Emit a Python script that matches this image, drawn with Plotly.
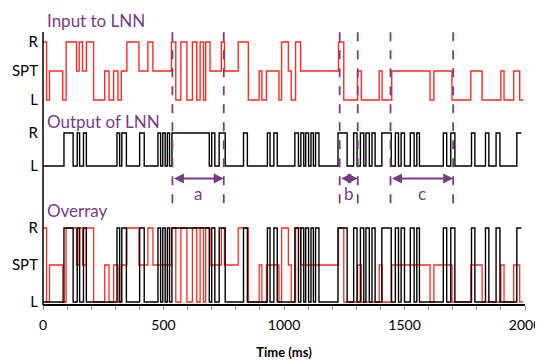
import plotly.graph_objects as go

# ---- data (ms, level) ----
# input levels: 0 = L, 1 = SPT, 2 = R
in_times = [0, 15, 27, 82, 96, 139, 150, 164, 180, 210, 256, 274, 293, 311, 325, 348, 398, 435, 456,
            533, 551, 572, 597, 620, 638, 652, 666, 675, 693, 740, 753, 810, 852, 897, 908,
            927, 979, 990, 1018, 1030, 1048, 1069, 1226, 1248, 1305, 1321, 1395, 1407, 1447, 1606,
            1622, 1697, 1775, 1822, 1900, 1913, 1953, 1978]
in_levels = [2, 0, 1, 0, 2, 1, 2, 1, 2, 0, 1, 0, 1, 0, 1, 2, 1, 2, 1,
             2, 0, 2, 0, 2, 0, 2, 0, 2, 1, 2, 1, 2, 0, 1, 0,
             1, 0, 2, 1, 0, 2, 1, 2, 0, 1, 0, 1, 0, 1, 0,
             1, 0, 1, 0, 1, 0, 1, 0]
in_end = 1992

# output levels: 0 = L, 1 = R
out_times = [0, 87, 125, 142, 152, 168, 180, 307, 318, 327, 346, 401, 420, 477, 488, 497, 507, 516, 525,
             535, 690, 700, 713, 731, 756, 832, 848, 931, 942, 958, 972, 1045, 1060, 1070, 1082, 1090,
             1102, 1112, 1122, 1131, 1145, 1224, 1262, 1289, 1303, 1317, 1331, 1340, 1354, 1365, 1378,
             1406, 1445, 1462, 1475, 1486, 1500, 1524, 1540, 1551, 1562, 1661, 1675, 1692, 1709, 1778,
             1792, 1836, 1850, 1880, 1896, 1966]
out_levels = [0, 1, 0, 1, 0, 1, 0, 1, 0, 1, 0, 1, 0, 1, 0, 1, 0, 1, 0,
              1, 0, 1, 0, 1, 0, 1, 0, 1, 0, 1, 0, 1, 0, 1, 0, 1,
              0, 1, 0, 1, 0, 1, 0, 1, 0, 1, 0, 1, 0, 1, 0,
              1, 0, 1, 0, 1, 0, 1, 0, 1, 0, 1, 0, 1, 0, 1,
              0, 1, 0, 1, 0, 1]
out_end = 1985

in_ticks = [0, 1, 2]
in_ticktext = ["L", "SPT", "R"]
out_ticks = [0, 1]
out_ticktext = ["L", "R"]
x_ticks = [0, 500, 1000, 1500, 2000]

# intervals marked a, b, c
mark_labels = ["a", "b", "c"]
mark_start = [537, 1231, 1442]
mark_end = [750, 1306, 1702]

PURPLE = "#7A3B86"
RED = "#FF2A1F"
FONT = "Lato"

in_x = in_times + [in_end]
in_y = in_levels + [in_levels[-1]]
out_x = out_times + [out_end]
out_y = out_levels + [out_levels[-1]]

fig = go.Figure()
fig.add_trace(go.Scatter(x=in_x, y=in_y, mode="lines", line=dict(color=RED, width=1.4, shape="hv"),
                         xaxis="x", yaxis="y", showlegend=False))
fig.add_trace(go.Scatter(x=out_x, y=out_y, mode="lines", line=dict(color="black", width=1.4, shape="hv"),
                         xaxis="x", yaxis="y2", showlegend=False))
fig.add_trace(go.Scatter(x=in_x, y=in_y, mode="lines", line=dict(color=RED, width=1.3, shape="hv"),
                         xaxis="x", yaxis="y3", showlegend=False))
fig.add_trace(go.Scatter(x=out_x, y=out_y, mode="lines", line=dict(color="black", width=1.4, shape="hv"),
                         xaxis="x", yaxis="y4", showlegend=False))

ylab = dict(family=FONT, size=15, color="black")
common_y = dict(showgrid=False, zeroline=False, showline=False, ticks="", tickfont=ylab,
                anchor="x", fixedrange=True, ticklabelstandoff=4, automargin=False)

# page body has an 8px margin, so the figure is sized to fit the 543x360 window
fig.update_layout(
    width=535, height=352,
    margin=dict(l=35, r=18, t=22, b=55),
    paper_bgcolor="white", plot_bgcolor="white",
    font=dict(family=FONT, color="black"),
    xaxis=dict(range=[0, 2000], tickvals=x_ticks, showgrid=False, zeroline=False, automargin=False,
               showline=True, linecolor="black", linewidth=1.5, ticks="outside", ticklen=4,
               tickcolor="#888", tickwidth=1, ticklabeloverflow="allow", ticklabelstandoff=4,
               minor=dict(dtick=100, ticks="outside", ticklen=4, tickcolor="#888", tickwidth=1),
               tickfont=dict(family=FONT, size=14, color="black"), anchor="y3",
               title=dict(text="<b>Time (ms)</b>", font=dict(family=FONT, size=13, color="black"),
                          standoff=20)),
    yaxis=dict(domain=[0.7349, 0.9669], range=[-0.1, 2.1], tickvals=in_ticks, ticktext=in_ticktext, **common_y),
    yaxis2=dict(domain=[0.4935, 0.6375], range=[-0.1, 1.1], tickvals=out_ticks, ticktext=out_ticktext, **common_y),
    yaxis3=dict(domain=[0.0042, 0.2867], range=[-0.05, 2.05], tickvals=in_ticks, ticktext=in_ticktext, **common_y),
    yaxis4=dict(domain=[0.0042, 0.2867], range=[-0.025, 1.025], overlaying="y3", visible=False,
                anchor="x", fixedrange=True),
)

shapes = [dict(type="line", xref="paper", yref="paper", x0=0, x1=0, y0=0, y1=0.993,
               line=dict(color="black", width=1.5))]
for s, e in zip(mark_start, mark_end):
    for xv in (s, e):
        shapes.append(dict(type="line", xref="x", yref="paper", x0=xv, x1=xv, y0=0.37, y1=1.004,
                           line=dict(color=PURPLE, width=1.8, dash="dash")))
fig.update_layout(shapes=shapes)

ann = []
title_font = dict(family=FONT, size=17, color=PURPLE)
ann.append(dict(text="Input to LNN", xref="paper", yref="paper", x=0.005, y=1.036, xanchor="left",
                yanchor="middle", showarrow=False, font=title_font))
ann.append(dict(text="Output of LNN", xref="paper", yref="paper", x=0.005, y=0.669, xanchor="left",
                yanchor="middle", showarrow=False, font=title_font))
ann.append(dict(text="Overray", xref="paper", yref="paper", x=0.005, y=0.345, xanchor="left",
                yanchor="middle", showarrow=False, font=title_font))
for lab, s, e in zip(mark_labels, mark_start, mark_end):
    ann.append(dict(x=e, y=0.46, ax=s, ay=0, xref="x", yref="paper", axref="x", ayref="pixel",
                    text="", showarrow=True, arrowhead=2, startarrowhead=2, arrowside="end+start",
                    arrowsize=1, arrowwidth=2, arrowcolor=PURPLE, standoff=0, startstandoff=0))
    ann.append(dict(x=(s + e) / 2, y=0.407, xref="x", yref="paper", text=lab, showarrow=False,
                    font=dict(family=FONT, size=17, color=PURPLE), yanchor="middle"))
fig.update_layout(annotations=ann)

fig.write_html("out.html")
